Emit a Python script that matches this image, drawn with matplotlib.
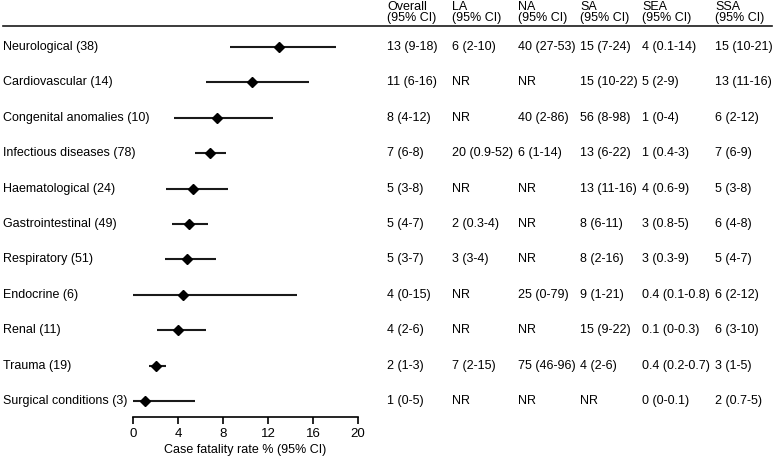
import matplotlib.pyplot as plt
from matplotlib.lines import Line2D
import matplotlib.transforms as mtransforms

plt.rcParams['font.family'] = ['Liberation Sans', 'DejaVu Sans']

categories = ['Neurological (38)', 'Cardiovascular (14)', 'Congenital anomalies (10)',
              'Infectious diseases (78)', 'Haematological (24)', 'Gastrointestinal (49)',
              'Respiratory (51)', 'Endocrine (6)', 'Renal (11)', 'Trauma (19)',
              'Surgical conditions (3)']
est = [13.0, 10.6, 7.5, 6.8, 5.3, 5.0, 4.8, 4.4, 4.0, 2.0, 1.1]
lo = [8.6, 6.5, 3.6, 5.5, 2.9, 3.5, 2.8, 0.0, 2.1, 1.4, 0.0]
hi = [18.0, 15.6, 12.4, 8.3, 8.4, 6.7, 7.4, 14.6, 6.5, 2.9, 5.5]

col_heads = ['Overall', 'LA', 'NA', 'SA', 'SEA', 'SSA']
overall = ['13 (9-18)', '11 (6-16)', '8 (4-12)', '7 (6-8)', '5 (3-8)', '5 (4-7)',
           '5 (3-7)', '4 (0-15)', '4 (2-6)', '2 (1-3)', '1 (0-5)']
la = ['6 (2-10)', 'NR', 'NR', '20 (0.9-52)', 'NR', '2 (0.3-4)',
      '3 (3-4)', 'NR', 'NR', '7 (2-15)', 'NR']
na = ['40 (27-53)', 'NR', '40 (2-86)', '6 (1-14)', 'NR', 'NR',
      'NR', '25 (0-79)', 'NR', '75 (46-96)', 'NR']
sa = ['15 (7-24)', '15 (10-22)', '56 (8-98)', '13 (6-22)', '13 (11-16)', '8 (6-11)',
      '8 (2-16)', '9 (1-21)', '15 (9-22)', '4 (2-6)', 'NR']
sea = ['4 (0.1-14)', '5 (2-9)', '1 (0-4)', '1 (0.4-3)', '4 (0.6-9)', '3 (0.8-5)',
       '3 (0.3-9)', '0.4 (0.1-0.8)', '0.1 (0-0.3)', '0.4 (0.2-0.7)', '0 (0-0.1)']
ssa = ['15 (10-21)', '13 (11-16)', '6 (2-12)', '7 (6-9)', '5 (3-8)', '6 (4-8)',
       '5 (4-7)', '6 (2-12)', '6 (3-10)', '3 (1-5)', '2 (0.7-5)']
columns = [overall, la, na, sa, sea, ssa]
col_x = [387, 452, 518, 580, 642, 715]  # pixel positions of column text

W, H = 780, 462
fig = plt.figure(figsize=(W / 100, H / 100), dpi=100)
ax = fig.add_axes([133 / W, 1 - 417 / H, 225 / W, (417 - 26) / H])

ypos = list(range(len(categories)))
for i in ypos:
    ax.plot([lo[i], hi[i]], [i, i], color='#1a1a1a', lw=1.5, solid_capstyle='butt')
ax.plot(est, ypos, 'D', color='black', ms=4.8, ls='none')

ax.set_xlim(0, 20)
ax.set_ylim(10.45, -0.59)
ax.set_xticks([0, 4, 8, 12, 16, 20])
ax.tick_params(axis='x', direction='out', length=5, width=1.2, labelsize=9.5, pad=3)
ax.set_yticks([])
for s in ['top', 'right', 'left']:
    ax.spines[s].set_visible(False)
ax.spines['bottom'].set_linewidth(1.2)
ax.spines['bottom'].set_bounds(0, 20)
ax.set_xlabel('Case fatality rate % (95% CI)', fontsize=9, labelpad=3)

trans = mtransforms.blended_transform_factory(fig.transFigure, ax.transData)
for i, lab in enumerate(categories):
    ax.text(3 / W, i, lab, transform=trans, fontsize=9, va='center', ha='left')
    for x, col in zip(col_x, columns):
        ax.text(x / W, i, col[i], transform=trans, fontsize=9, va='center', ha='left')

for x, h in zip(col_x, col_heads):
    fig.text(x / W, 1 - 6.5 / H, h, fontsize=9, va='center', ha='left')
    fig.text(x / W, 1 - 18.5 / H, '(95% CI)', fontsize=9, va='center', ha='left')

fig.add_artist(Line2D([3 / W, 772 / W], [1 - 25.5 / H, 1 - 25.5 / H],
                      transform=fig.transFigure, color='#1a1a1a', lw=1.2))

fig.savefig('out.png', dpi=100)
